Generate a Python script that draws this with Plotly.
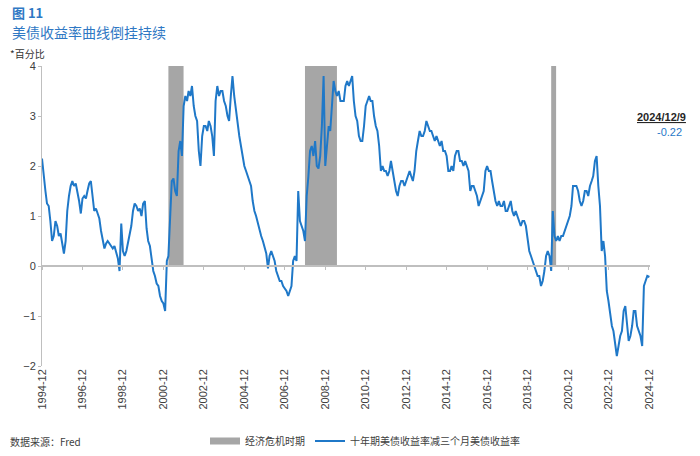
import pandas as pd
import plotly.graph_objects as go

# ---- data (monthly readings of 10Y minus 3M US Treasury yield, %) ----
start_month = "1994-12-01"
last_date = "2024-12-09"
spread = [
    2.15,                                                                   # 1994-12
    1.75, 1.5, 1.25, 1.2, 0.9, 0.5, 0.6, 0.9, 0.8, 0.6, 0.65, 0.45,          # 1995
    0.25, 0.5, 1.1, 1.4, 1.6, 1.7, 1.6, 1.65, 1.5, 1.3, 1.05, 1.35,         # 1996
    1.4, 1.35, 1.5, 1.65, 1.7, 1.4, 1.1, 1.15, 1.05, 0.95, 0.7, 0.5,        # 1997
    0.35, 0.45, 0.5, 0.45, 0.4, 0.35, 0.4, 0.25, 0.15, -0.1, 0.85, 0.3,     # 1998
    0.2, 0.3, 0.45, 0.65, 0.8, 1.1, 1.25, 1.2, 1.1, 1.15, 1.0, 1.25,        # 1999
    1.3, 0.75, 0.5, 0.4, 0.1, -0.1, -0.2, -0.35, -0.4, -0.6, -0.7, -0.75,   # 2000
    -0.9, 0.1, 0.2, 1.0, 1.7, 1.75, 1.5, 1.4, 2.3, 2.5, 2.2, 3.2,           # 2001
    3.4, 3.3, 3.5, 3.4, 3.6, 3.2, 3.0, 2.9, 2.3, 2.0, 2.6, 2.8,             # 2002
    2.8, 2.7, 2.9, 2.8, 2.6, 2.2, 3.3, 3.6, 3.4, 3.5, 3.5, 3.3,             # 2003
    3.2, 3.0, 2.9, 3.4, 3.8, 3.4, 3.1, 2.9, 2.6, 2.4, 2.2, 2.0,             # 2004
    1.9, 1.8, 1.7, 1.6, 1.3, 1.1, 1.0, 0.85, 0.7, 0.6, 0.5, 0.4,            # 2005
    0.25, -0.05, 0.2, 0.3, 0.2, 0.1, -0.1, -0.2, -0.3, -0.3, -0.4, -0.45,   # 2006
    -0.5, -0.6, -0.5, -0.4, 0.1, 0.2, 0.1, 1.5, 0.9, 0.8, 0.7, 0.5,         # 2007
    1.4, 1.8, 2.3, 2.4, 2.2, 2.5, 2.0, 1.95, 2.2, 2.8, 3.8, 2.0,            # 2008
    2.4, 2.8, 2.7, 3.2, 3.7, 3.5, 3.4, 3.5, 3.3, 3.3, 3.3, 3.6,             # 2009
    3.7, 3.6, 3.7, 3.8, 3.3, 3.0, 2.9, 2.6, 2.5, 2.5, 2.8, 3.2,             # 2010
    3.3, 3.4, 3.3, 3.3, 3.0, 2.8, 2.7, 2.4, 1.9, 2.0, 1.9, 1.9,             # 2011
    1.8, 1.9, 2.1, 1.9, 1.7, 1.5, 1.4, 1.6, 1.7, 1.7, 1.6, 1.7,             # 2012
    1.8, 1.9, 1.8, 1.7, 1.9, 2.3, 2.5, 2.7, 2.6, 2.6, 2.7, 2.9,             # 2013
    2.8, 2.7, 2.7, 2.6, 2.5, 2.6, 2.5, 2.4, 2.5, 2.3, 2.3, 2.2,             # 2014
    1.9, 1.9, 2.0, 1.9, 2.2, 2.3, 2.3, 2.1, 2.1, 2.0, 2.1, 2.0,             # 2015
    1.9, 1.5, 1.6, 1.6, 1.5, 1.4, 1.2, 1.3, 1.4, 1.5, 1.9, 2.0,             # 2016
    1.9, 1.9, 1.7, 1.5, 1.3, 1.2, 1.3, 1.2, 1.2, 1.3, 1.1, 1.1,             # 2017
    1.2, 1.3, 1.1, 1.0, 1.1, 1.0, 0.9, 0.8, 0.9, 0.9, 0.8, 0.5,             # 2018
    0.3, 0.2, 0.1, 0.0, -0.1, -0.2, -0.2, -0.4, -0.3, -0.1, 0.2, 0.3,       # 2019
    0.2, -0.1, 1.1, 0.6, 0.5, 0.6, 0.5, 0.6, 0.6, 0.7, 0.8, 0.9,            # 2020
    1.0, 1.2, 1.6, 1.6, 1.6, 1.5, 1.3, 1.2, 1.3, 1.5, 1.5, 1.4,             # 2021
    1.6, 1.7, 1.8, 2.1, 2.2, 1.6, 1.2, 0.3, 0.5, 0.2, -0.5, -0.7,           # 2022
    -1.0, -1.2, -1.3, -1.6, -1.8, -1.6, -1.4, -1.3, -0.9, -0.8, -1.2, -1.5, # 2023
    -1.4, -1.2, -0.9, -0.9, -1.2, -1.3, -1.4, -1.6, -0.4, -0.3, -0.2, -0.22 # 2024
]
rec_start = ["2001-03-01", "2007-12-01", "2020-02-01"]
rec_end = ["2001-11-30", "2009-06-30", "2020-04-30"]
tick_vals = [f"{y}-12-01" for y in range(1994, 2025, 2)]
tick_text = [f"{y}-12" for y in range(1994, 2025, 2)]
y_ticks = [-2, -1, 0, 1, 2, 3, 4]

dates = list(pd.date_range(start_month, periods=len(spread) - 1, freq="MS")) + [pd.Timestamp(last_date)]

BLUE = "#1F78C8"
TITLE_BLUE = "#2F78C4"
GREY = "#A6A6A6"
TXT = "#404040"
FONT = "Noto Sans CJK SC"

fig = go.Figure()
fig.add_trace(go.Scatter(x=[None], y=[None], mode="lines", name="经济危机时期",
                         line=dict(color=GREY, width=7), xaxis="x2", showlegend=True))
fig.add_trace(go.Scatter(x=dates, y=spread, mode="lines", name="十年期美债收益率减三个月美债收益率",
                         line=dict(color=BLUE, width=2)))

for s, e in zip(rec_start, rec_end):
    fig.add_shape(type="rect", xref="x", yref="y", x0=s, x1=e, y0=0, y1=4,
                  fillcolor=GREY, line=dict(width=0), layer="below")

fig.update_layout(
    width=700, height=456,
    margin=dict(l=42, r=50, t=66, b=90, autoexpand=False),
    paper_bgcolor="white", plot_bgcolor="white",
    font=dict(family=FONT, size=11, color=TXT),
    showlegend=True,
    legend=dict(orientation="h", x=(205 - 42) / 608, y=(366 - 441) / 300, xanchor="left", yanchor="middle",
                font=dict(size=10, color=TXT), itemwidth=30, tracegroupgap=0,
                bgcolor="rgba(0,0,0,0)"),
    xaxis=dict(type="date", range=["1994-12-01", "2024-12-20"],
               tickvals=tick_vals, ticktext=tick_text, tickangle=-90,
               showgrid=False, zeroline=False, showline=False, ticks="",
               tickfont=dict(size=11, color=TXT, family="Liberation Sans"), automargin=False),
    xaxis2=dict(type="date", overlaying="x", matches="x", anchor="free", position=1/3,
                tickvals=tick_vals, showticklabels=False, ticks="outside", ticklen=3,
                tickcolor="#BFBFBF", showline=True, linecolor="#BFBFBF", linewidth=1.5,
                showgrid=False, zeroline=False),
    yaxis=dict(range=[-2, 4], tickvals=y_ticks, showgrid=False, zeroline=False,
               showline=True, linecolor="#BFBFBF", linewidth=1, ticks="outside",
               ticklen=3, tickcolor="#BFBFBF", automargin=False,
               tickfont=dict(size=11, color=TXT, family="Liberation Sans")),
)

ann = [
    dict(text="<b>图 11</b>", x=10, y=13, size=13),
    dict(text="美债收益率曲线倒挂持续", x=10, y=32, size=14),
]
for a in ann:
    fig.add_annotation(text=a["text"], xref="paper", yref="paper",
                       x=(a["x"] - 42) / 608, y=(366 - a["y"]) / 300,
                       xanchor="left", yanchor="middle", showarrow=False,
                       font=dict(size=a["size"], color=TITLE_BLUE, family=FONT))
fig.add_annotation(text="*百分比", xref="paper", yref="paper", x=(8 - 42) / 608, y=(366 - 53) / 300,
                   xanchor="left", yanchor="middle", showarrow=False,
                   font=dict(size=10, color="#333333", family=FONT))
fig.add_annotation(text="数据来源：Fred", xref="paper", yref="paper", x=(8 - 42) / 608, y=(366 - 441) / 300,
                   xanchor="left", yanchor="middle", showarrow=False,
                   font=dict(size=10, color=TXT, family=FONT))
fig.add_annotation(text="<u><b>" + "2024/12/9" + "</b></u>", xref="paper", yref="paper",
                   x=(662 - 42) / 608, y=(366 - 117) / 300, xanchor="center", yanchor="middle",
                   showarrow=False, font=dict(size=11, color="#262626", family="Liberation Sans"))
fig.add_annotation(text=f"{spread[-1]:.2f}", xref="paper", yref="paper",
                   x=(669 - 42) / 608, y=(366 - 132) / 300, xanchor="center", yanchor="middle",
                   showarrow=False, font=dict(size=11, color=BLUE, family="Liberation Sans"))

fig.write_html("out.html")
